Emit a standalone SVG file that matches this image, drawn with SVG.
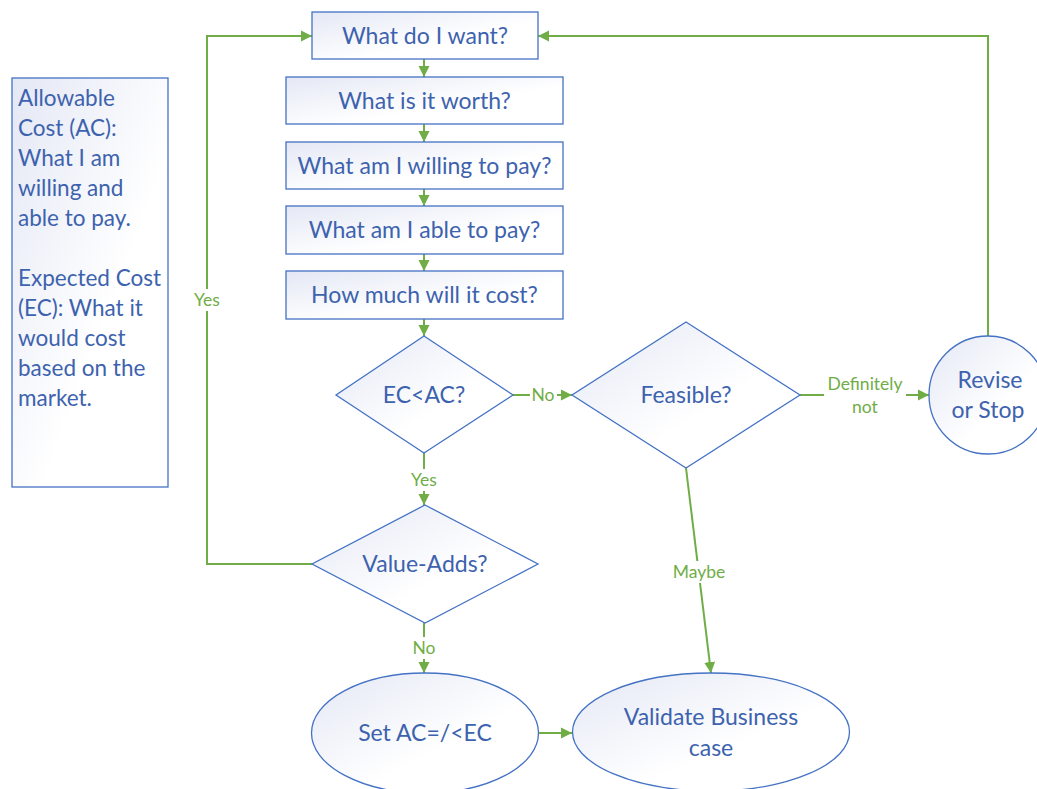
<svg xmlns="http://www.w3.org/2000/svg" width="1037" height="789" viewBox="0 0 1037 789">
  <defs>
    <linearGradient id="shade" x1="0" y1="0" x2="1" y2="1">
      <stop offset="0" stop-color="#E4E8F5"/>
      <stop offset="0.6" stop-color="#FFFFFF"/>
      <stop offset="1" stop-color="#FFFFFF"/>
    </linearGradient>
    <marker id="arrow" markerUnits="userSpaceOnUse" markerWidth="12" markerHeight="12" refX="11" refY="6" orient="auto">
      <path d="M0,0.5 L11,6 L0,11.5 z" fill="#70AD47"/>
    </marker>
  </defs>
  <style>
    .shape { fill: url(#shade); stroke: #4472C4; stroke-width: 1.3; }
    .label { font-family: Lato, "Open Sans", sans-serif; font-size: 23px; fill: #3D62AE; text-anchor: middle; }
    .note { font-family: Lato, "Open Sans", sans-serif; font-size: 22.5px; fill: #3D62AE; }
    .edge { fill: none; stroke: #70AD47; stroke-width: 2; }
    .tag { font-family: Lato, "Open Sans", sans-serif; font-size: 17.5px; fill: #70AD47; text-anchor: middle; }
    .gap { fill: #FFFFFF; }
  </style>
  <rect width="1037" height="789" fill="#FFFFFF"/>

  <!-- connectors -->
  <g id="connectors">
    <line class="edge" x1="424" y1="59" x2="424" y2="77" marker-end="url(#arrow)"/>
    <line class="edge" x1="424" y1="124" x2="424" y2="142" marker-end="url(#arrow)"/>
    <line class="edge" x1="424" y1="189" x2="424" y2="206" marker-end="url(#arrow)"/>
    <line class="edge" x1="424" y1="254" x2="424" y2="271" marker-end="url(#arrow)"/>
    <line class="edge" x1="424" y1="319" x2="424" y2="336" marker-end="url(#arrow)"/>

    <line class="edge" x1="513" y1="395" x2="572" y2="395" marker-end="url(#arrow)"/>
    <rect class="gap" x="530" y="385" width="27" height="20"/>
    <text class="tag" x="543" y="401">No</text>

    <line class="edge" x1="800" y1="395" x2="929" y2="395" marker-end="url(#arrow)"/>
    <rect class="gap" x="824" y="373" width="82" height="44"/>
    <text class="tag" x="865" y="390">Definitely</text>
    <text class="tag" x="865" y="413">not</text>

    <line class="edge" x1="686" y1="468" x2="711" y2="673" marker-end="url(#arrow)"/>
    <rect class="gap" x="670" y="561" width="58" height="22"/>
    <text class="tag" x="699" y="578">Maybe</text>

    <line class="edge" x1="424" y1="453" x2="424" y2="505" marker-end="url(#arrow)"/>
    <rect class="gap" x="407" y="469" width="34" height="22"/>
    <text class="tag" x="424" y="486">Yes</text>

    <line class="edge" x1="424" y1="623" x2="424" y2="673" marker-end="url(#arrow)"/>
    <rect class="gap" x="409" y="637" width="30" height="22"/>
    <text class="tag" x="424" y="654">No</text>

    <line class="edge" x1="538" y1="733" x2="572" y2="733" marker-end="url(#arrow)"/>

    <polyline class="edge" points="312,564 207,564 207,36 312,36" marker-end="url(#arrow)"/>
    <rect class="gap" x="190" y="289" width="34" height="22"/>
    <text class="tag" x="207" y="306">Yes</text>

    <polyline class="edge" points="988,336 988,36 538,36" marker-end="url(#arrow)"/>
  </g>

  <!-- legend -->
  <g id="legend">
    <rect class="shape" x="12" y="78" width="156" height="409"/>
    <text class="note" x="18" y="106">Allowable</text>
    <text class="note" x="18" y="136">Cost (AC):</text>
    <text class="note" x="18" y="166">What I am</text>
    <text class="note" x="18" y="196">willing and</text>
    <text class="note" x="18" y="226">able to pay.</text>
    <text class="note" x="18" y="286">Expected Cost</text>
    <text class="note" x="18" y="316">(EC): What it</text>
    <text class="note" x="18" y="346">would cost</text>
    <text class="note" x="18" y="376">based on the</text>
    <text class="note" x="18" y="406">market.</text>
  </g>

  <!-- process steps -->
  <g id="want">
    <rect class="shape" x="312" y="12" width="226" height="47"/>
    <text class="label" x="425" y="44">What do I want?</text>
  </g>
  <g id="worth">
    <rect class="shape" x="286" y="77" width="277" height="47"/>
    <text class="label" x="424.5" y="109">What is it worth?</text>
  </g>
  <g id="willing">
    <rect class="shape" x="286" y="142" width="277" height="47"/>
    <text class="label" x="424.5" y="174">What am I willing to pay?</text>
  </g>
  <g id="able">
    <rect class="shape" x="286" y="206" width="277" height="48"/>
    <text class="label" x="424.5" y="238">What am I able to pay?</text>
  </g>
  <g id="cost">
    <rect class="shape" x="286" y="271" width="277" height="48"/>
    <text class="label" x="424.5" y="303">How much will it cost?</text>
  </g>

  <!-- decisions -->
  <g id="ec-ac">
    <polygon class="shape" points="424,336 513,395 424,453 336,395"/>
    <text class="label" x="424" y="403">EC&lt;AC?</text>
  </g>
  <g id="feasible">
    <polygon class="shape" points="686,322 800,395 686,468 572,395"/>
    <text class="label" x="686" y="403">Feasible?</text>
  </g>
  <g id="value-adds">
    <polygon class="shape" points="425,505 538,564 425,623 312,564"/>
    <text class="label" x="425" y="572">Value-Adds?</text>
  </g>

  <!-- outcomes -->
  <g id="revise">
    <circle class="shape" cx="988" cy="395" r="59"/>
    <text class="label" x="990" y="388">Revise</text>
    <text class="label" x="988" y="418">or Stop</text>
  </g>
  <g id="set-ac">
    <ellipse class="shape" cx="425" cy="733" rx="113.5" ry="60"/>
    <text class="label" x="425" y="741">Set AC=/&lt;EC</text>
  </g>
  <g id="validate">
    <ellipse class="shape" cx="711" cy="732" rx="138.5" ry="59"/>
    <text class="label" x="711" y="725">Validate Business</text>
    <text class="label" x="711" y="756">case</text>
  </g>
</svg>
